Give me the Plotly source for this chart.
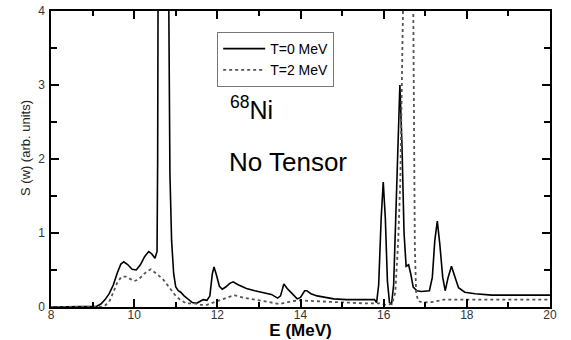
import plotly.graph_objects as go

# T=0 MeV (solid) curve
E_t0 = [8.0, 9.0, 9.1, 9.2, 9.3, 9.4, 9.5, 9.6, 9.68, 9.75, 9.85, 9.95, 10.05, 10.15, 10.25,
        10.35, 10.42, 10.5, 10.55, 10.565, 10.575, 10.7, 10.83, 10.86, 10.9, 10.95, 11.0,
        11.06, 11.12, 11.2, 11.3, 11.4, 11.5, 11.6, 11.66, 11.75, 11.82, 11.88, 11.92, 11.97,
        12.05, 12.12, 12.2, 12.3, 12.38, 12.5, 12.7, 12.9, 13.1, 13.3, 13.45, 13.52, 13.6,
        13.68, 13.8, 13.92, 14.0, 14.1, 14.15, 14.25, 14.4, 14.6, 14.8, 15.1, 15.5, 15.78,
        15.83, 15.88, 15.94, 15.99, 16.04, 16.09, 16.14, 16.19, 16.24, 16.3, 16.35, 16.39,
        16.44, 16.49, 16.54, 16.6, 16.65, 16.71, 16.8, 16.9, 17.1, 17.17, 17.23, 17.29,
        17.35, 17.42, 17.48, 17.55, 17.63, 17.7, 17.8, 17.95, 18.2, 18.6, 19.2, 20.0]
S_t0 = [0.0, 0.0, 0.01, 0.04, 0.1, 0.18, 0.3, 0.47, 0.58, 0.61, 0.57, 0.51, 0.5, 0.57, 0.68,
        0.75, 0.72, 0.66, 0.75, 2.0, 4.3, 8.0, 4.3, 1.8, 0.9, 0.45, 0.27,
        0.22, 0.2, 0.15, 0.1, 0.06, 0.05, 0.08, 0.1, 0.09, 0.15, 0.45, 0.54, 0.45,
        0.28, 0.24, 0.27, 0.32, 0.34, 0.3, 0.25, 0.22, 0.2, 0.17, 0.12, 0.15, 0.31,
        0.25, 0.18, 0.11, 0.13, 0.22, 0.22, 0.18, 0.15, 0.13, 0.11, 0.1, 0.1, 0.1,
        0.06, 0.3, 1.2, 1.69, 1.2, 0.35, 0.06, 0.04, 0.3, 1.4, 2.5, 3.0,
        2.2, 1.0, 0.55, 0.57, 0.45, 0.27, 0.22, 0.21, 0.22, 0.4, 0.9, 1.16,
        0.85, 0.4, 0.22, 0.4, 0.55, 0.42, 0.26, 0.2, 0.18, 0.16, 0.16, 0.16]

# T=2 MeV (dashed) curve
E_t2 = [8.0, 9.2, 9.3, 9.4, 9.5, 9.6, 9.7, 9.8, 9.9, 10.0, 10.1, 10.2, 10.3, 10.4, 10.5,
        10.6, 10.7, 10.8, 10.9, 11.0, 11.1, 11.25, 11.45, 11.6, 11.75, 11.95, 12.15, 12.4,
        12.6, 12.8, 13.0, 13.2, 13.5, 13.8, 14.0, 14.3, 14.6, 15.0, 15.5, 15.9, 16.05,
        16.2, 16.28, 16.35, 16.4, 16.47, 16.58, 16.71, 16.73, 16.75, 16.78, 16.83, 16.95,
        17.2, 17.45, 17.8, 18.5, 20.0]
S_t2 = [0.0, 0.0, 0.02, 0.07, 0.2, 0.34, 0.41, 0.41, 0.38, 0.35, 0.37, 0.43, 0.48, 0.51, 0.47,
        0.42, 0.37, 0.3, 0.22, 0.15, 0.1, 0.05, 0.05, 0.03, 0.03, 0.07, 0.12, 0.16,
        0.13, 0.11, 0.08, 0.07, 0.04, 0.08, 0.09, 0.08, 0.07, 0.06, 0.05, 0.05, 0.03,
        0.04, 0.2, 0.9, 1.7, 4.2, 7.0, 4.2, 2.5, 0.8, 0.2, 0.08, 0.06,
        0.07, 0.1, 0.1, 0.1, 0.1]

FONT = "Liberation Sans, Arial, sans-serif"

fig = go.Figure()
fig.add_trace(go.Scatter(x=E_t0, y=S_t0, mode="lines", name="T=0 MeV",
                         line=dict(color="black", width=1.6)))
fig.add_trace(go.Scatter(x=E_t2, y=S_t2, mode="lines", name="T=2 MeV",
                         line=dict(color="#555555", width=1.8, dash="3px,3px")))

fig.update_xaxes(range=[8, 20], dtick=2, tick0=0,
                 showline=True, linecolor="black", linewidth=1.5, mirror="allticks",
                 ticks="inside", tickcolor="#000000", tickwidth=2, ticklen=8,
                 minor=dict(dtick=1, ticks="inside", ticklen=5, tickcolor="#000000", tickwidth=2),
                 showgrid=False, zeroline=False, automargin=False,
                 tickfont=dict(family=FONT, size=12, color="#333333"),
                 ticklabelstandoff=-4,
                 title=dict(text="<b>E (MeV)</b>", font=dict(family=FONT, size=17, color="black"),
                            standoff=8),
                 layer="above traces")
fig.update_yaxes(range=[0, 4], dtick=1, tick0=0,
                 showline=True, linecolor="black", linewidth=1.5, mirror="allticks",
                 ticks="inside", tickcolor="#000000", tickwidth=2, ticklen=8,
                 minor=dict(dtick=0.5, ticks="inside", ticklen=6, tickcolor="#000000", tickwidth=2),
                 showgrid=False, zeroline=False, automargin=False,
                 tickfont=dict(family=FONT, size=12, color="#333333"),
                 ticklabelstandoff=2,
                 layer="above traces")

fig.add_annotation(x=-0.052, y=0.537, xref="paper", yref="paper", xanchor="center", yanchor="middle",
                   text="S (w) (arb. units)", textangle=-90, showarrow=False,
                   font=dict(family=FONT, size=13, color="#222222"))
fig.add_annotation(x=0.355, y=0.672, xref="paper", yref="paper", xanchor="left", yanchor="middle",
                   text="<sup>68</sup>Ni", showarrow=False,
                   font=dict(family=FONT, size=25, color="black"))
fig.add_annotation(x=0.353, y=0.49, xref="paper", yref="paper", xanchor="left", yanchor="middle",
                   text="No Tensor", showarrow=False,
                   font=dict(family=FONT, size=26, color="black"))

fig.update_layout(
    width=571, height=340,
    margin=dict(l=51, r=21, t=11, b=33),
    paper_bgcolor="white", plot_bgcolor="white",
    showlegend=True,
    legend=dict(x=0.333, y=0.929, xanchor="left", yanchor="top",
                bgcolor="white", bordercolor="#777777", borderwidth=1,
                font=dict(family=FONT, size=14, color="black"),
                tracegroupgap=0, itemwidth=42),
)

fig.write_html("out.html", config={"displayModeBar": False},
               post_script="document.body.style.margin='0';document.body.style.padding='0';")
